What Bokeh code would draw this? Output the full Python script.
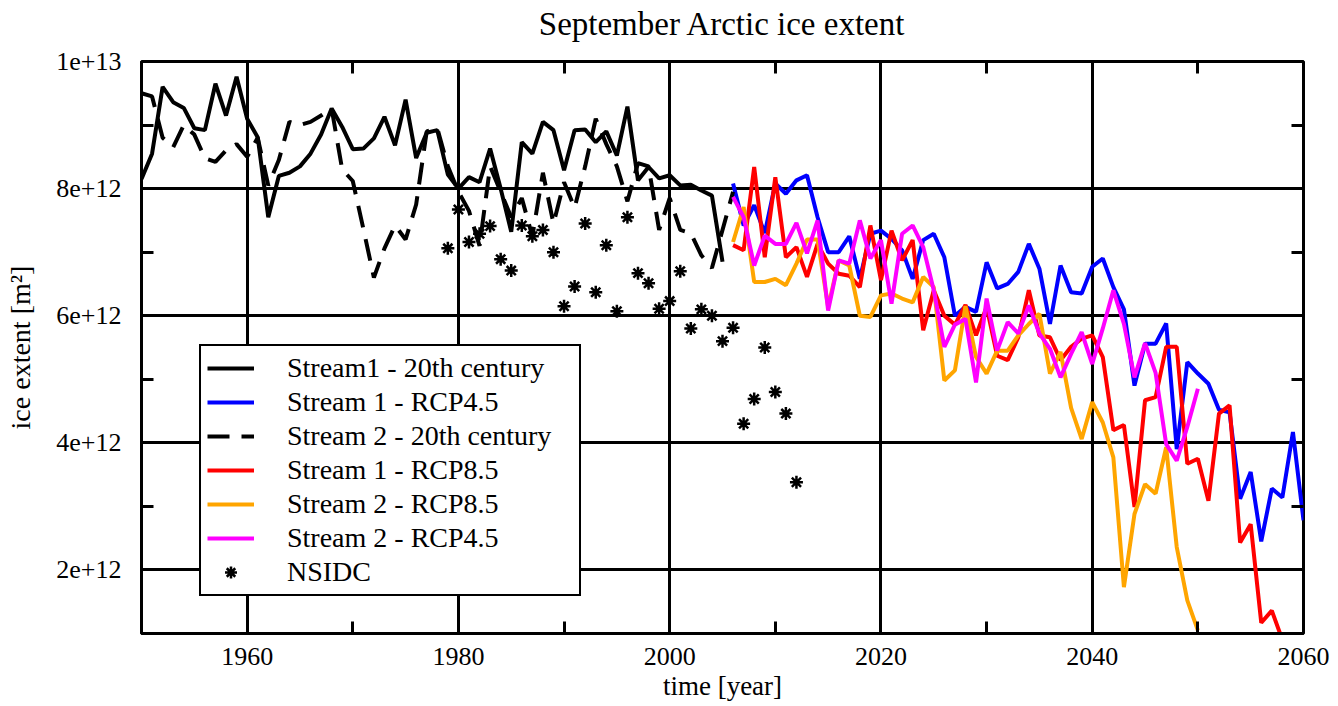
import numpy as np
from bokeh.plotting import figure
from bokeh.models import (FixedTicker, LinearAxis, CustomJSTickFormatter,
                          Legend, LegendItem)
from bokeh.embed import file_html
from bokeh.resources import INLINE

SCALE = 1e12  # values below are in units of 1e12 m^2

years_20c_s1 = list(range(1950, 2006))
stream1_20c = [8.15, 8.55, 9.6, 9.36, 9.27, 8.95, 8.92, 9.65, 9.15, 9.76,
               9.1, 8.81, 7.55, 8.2, 8.25, 8.35, 8.55, 8.85, 9.26, 8.97,
               8.62, 8.63, 8.79, 9.13, 8.68, 9.4, 8.48, 8.88, 8.92, 8.22,
               8.0, 8.18, 8.1, 8.63, 8.0, 7.32, 8.73, 8.55, 9.05, 8.92,
               8.29, 8.92, 8.93, 8.73, 8.9, 8.52, 9.29, 8.13, 8.34, 8.16,
               8.21, 8.05, 8.06, 7.97, 7.89, 6.85]

years_20c_s2 = list(range(1950, 2007))
stream2_20c = [9.5, 9.45, 8.8, 8.65, 9.0, 8.85, 8.48, 8.42, 8.6, 8.7,
               8.5, 8.8, 8.05, 8.45, 9.05, 9.0, 9.05, 9.15, 9.26, 8.3,
               8.12, 7.37, 6.6, 7.06, 7.42, 7.2, 7.75, 8.9, 8.95, 8.35,
               7.95, 7.65, 7.1, 8.35, 7.95, 7.55, 7.85, 7.25, 8.25, 7.45,
               8.1, 7.7, 8.35, 9.1, 8.7, 8.35, 7.8, 8.4, 8.35, 7.35,
               7.85, 7.35, 7.3, 6.95, 6.75, 7.35, 7.95]

years_s1_rcp45 = list(range(2006, 2061))
stream1_rcp45 = [8.08, 7.42, 7.74, 7.3, 8.08, 7.92, 8.13, 8.21, 7.55, 7.0,
                 7.0, 7.25, 6.58, 7.29, 7.34, 7.21, 7.03, 6.58, 7.19, 7.29,
                 6.92, 6.0, 6.14, 6.06, 6.84, 6.43, 6.5, 6.69, 7.13, 6.74,
                 5.87, 6.79, 6.37, 6.35, 6.77, 6.9, 6.45, 6.1, 4.9, 5.56,
                 5.56, 5.88, 3.9, 5.27, 5.09, 4.93, 4.52, 4.48, 3.12, 3.54,
                 2.45, 3.28, 3.14, 4.17, 2.78]

years_s1_rcp85 = list(range(2006, 2059))
stream1_rcp85 = [7.11, 7.03, 8.34, 6.92, 8.18, 6.92, 7.08, 6.61, 7.13, 6.82,
                 6.66, 6.63, 6.45, 7.42, 6.56, 7.34, 6.87, 7.19, 5.77, 6.4,
                 6.0, 5.86, 6.17, 5.69, 6.14, 5.37, 5.3, 5.66, 6.4, 5.69,
                 5.66, 5.3, 5.51, 5.64, 5.69, 5.35, 4.2, 4.28, 2.99, 4.67,
                 4.72, 5.51, 5.51, 3.67, 3.75, 3.09, 4.46, 4.59, 2.43, 2.72,
                 1.17, 1.36, 0.9]

years_s2_rcp85 = list(range(2006, 2051))
stream2_rcp85 = [7.16, 7.71, 6.53, 6.53, 6.58, 6.48, 6.82, 7.2, 7.2, 6.14,
                 6.87, 6.79, 6.0, 5.98, 6.32, 6.35, 6.27, 6.21, 6.61, 6.45,
                 4.98, 5.14, 6.15, 5.35, 5.09, 5.45, 5.45, 5.69, 5.87, 6.03,
                 5.09, 5.43, 4.55, 4.06, 4.64, 4.32, 3.77, 1.73, 2.88, 3.35,
                 3.2, 3.93, 2.36, 1.52, 1.05]

years_s2_rcp45 = list(range(2006, 2051))
stream2_rcp45 = [7.87, 7.55, 6.79, 7.26, 7.13, 7.13, 7.46, 6.98, 7.5, 6.08,
                 6.87, 6.82, 7.5, 6.9, 7.19, 6.19, 7.29, 7.42, 7.08, 6.4,
                 5.51, 5.86, 5.95, 4.95, 6.27, 5.45, 5.9, 5.72, 6.16, 5.72,
                 5.48, 5.03, 5.4, 5.74, 5.24, 5.8, 6.4, 5.87, 5.03, 5.57,
                 5.1, 3.98, 3.72, 4.25, 4.85]

years_nsidc = list(range(1979, 2013))
nsidc = [7.06, 7.67, 7.16, 7.29, 7.41, 6.89, 6.71, 7.42, 7.25, 7.35,
         7.0, 6.15, 6.46, 7.45, 6.37, 7.11, 6.07, 7.55, 6.67, 6.51,
         6.11, 6.23, 6.7, 5.8, 6.1, 6.0, 5.6, 5.81, 4.3, 4.69,
         5.5, 4.8, 4.46, 3.38]

x_major = [1960, 1980, 2000, 2020, 2040, 2060]
x_minor = [1970, 1990, 2010, 2030, 2050]
y_major = [2e12, 4e12, 6e12, 8e12, 1e13]
y_minor = [3e12, 5e12, 7e12, 9e12]

TITLE = "September Arctic ice extent"
FONT = "Liberation Serif"


def sc(vals):
    return [v * SCALE for v in vals]


p = figure(width=1338, height=706, x_range=(1950, 2060), y_range=(1e12, 1e13),
           output_backend="svg", toolbar_location=None,
           min_border_left=141, min_border_right=35,
           min_border_top=61, min_border_bottom=73)
p.title = None
p.background_fill_color = "white"
p.border_fill_color = "white"
p.outline_line_color = "black"
p.outline_line_width = 3
p.outline_line_alpha = 1

# bottom axis
xa = p.xaxis[0]
xa.ticker = FixedTicker(ticks=x_major, minor_ticks=x_minor)
xa.axis_label = "time [year]"
for ax in (p.xaxis[0], p.yaxis[0]):
    ax.axis_line_width = 3
    ax.axis_line_color = "black"
    ax.major_tick_in = 0
    ax.major_tick_out = 0
    ax.minor_tick_in = 12
    ax.minor_tick_out = 0
    ax.minor_tick_line_width = 3
    ax.minor_tick_line_color = "black"
    ax.major_label_text_font = FONT
    ax.major_label_text_font_size = "26px"
    ax.major_label_text_color = "black"
    ax.axis_label_text_font = FONT
    ax.axis_label_text_font_style = "normal"
    ax.axis_label_text_color = "black"
xa.axis_label_text_font_size = "27px"
xa.major_label_standoff = 14
xa.axis_label_standoff = 3

ya = p.yaxis[0]
ya.ticker = FixedTicker(ticks=y_major, minor_ticks=y_minor)
ya.formatter = CustomJSTickFormatter(code="return tick.toExponential();")
ya.axis_label = "ice extent [m²]"
ya.axis_label_text_font_size = "28px"
ya.major_label_standoff = 20
ya.axis_label_standoff = 17

# mirrored minor ticks on top (carrying the title) and right
top = LinearAxis(ticker=FixedTicker(ticks=[], minor_ticks=x_minor),
                 axis_line_color=None, major_tick_in=0, major_tick_out=0,
                 minor_tick_in=12, minor_tick_out=0, minor_tick_line_width=3,
                 minor_tick_line_color="black", major_label_text_font_size="0px",
                 major_label_standoff=0,
                 axis_label=TITLE, axis_label_standoff=20,
                 axis_label_text_font=FONT, axis_label_text_font_size="33px",
                 axis_label_text_font_style="normal",
                 axis_label_text_color="black")
right = LinearAxis(ticker=FixedTicker(ticks=[], minor_ticks=y_minor),
                   axis_line_color=None, major_tick_in=0, major_tick_out=0,
                   minor_tick_in=12, minor_tick_out=0, minor_tick_line_width=3,
                   minor_tick_line_color="black", major_label_text_font_size="0px")
p.add_layout(top, "above")
p.add_layout(right, "right")

p.xgrid.ticker = FixedTicker(ticks=[1960, 1980, 2000, 2020, 2040])
p.ygrid.ticker = FixedTicker(ticks=[2e12, 4e12, 6e12, 8e12])
for g in (p.xgrid[0], p.ygrid[0]):
    g.grid_line_color = "black"
    g.grid_line_width = 3
    g.grid_line_alpha = 1

LW = 4
r1 = p.line(years_20c_s1, sc(stream1_20c), line_color="black", line_width=LW)
r2 = p.line(years_s1_rcp45, sc(stream1_rcp45), line_color="#0000ff", line_width=LW)
r3 = p.line(years_20c_s2, sc(stream2_20c), line_color="black", line_width=LW,
            line_dash="22 12")
r4 = p.line(years_s1_rcp85, sc(stream1_rcp85), line_color="#ff0000", line_width=LW)
r5 = p.line(years_s2_rcp85, sc(stream2_rcp85), line_color="#ffa500", line_width=LW)
r6 = p.line(years_s2_rcp45, sc(stream2_rcp45), line_color="#ff00ff", line_width=LW)
r7 = p.scatter(years_nsidc, sc(nsidc), marker="asterisk", size=13,
               line_color="black", line_width=2.5)

legend = Legend(items=[
    LegendItem(label="Stream1 - 20th century", renderers=[r1]),
    LegendItem(label="Stream 1 - RCP4.5", renderers=[r2]),
    LegendItem(label="Stream 2 - 20th century", renderers=[r3]),
    LegendItem(label="Stream 1 - RCP8.5", renderers=[r4]),
    LegendItem(label="Stream 2 - RCP8.5", renderers=[r5]),
    LegendItem(label="Stream 2 - RCP4.5", renderers=[r6]),
    LegendItem(label="NSIDC", renderers=[r7]),
], location=(58, 37))
legend.label_text_font = FONT
legend.label_text_font_size = "28px"
legend.label_text_color = "black"
legend.glyph_width = 47
legend.glyph_height = 30
legend.label_height = 30
legend.label_width = 286
legend.label_standoff = 33
legend.spacing = 2
legend.padding = 6
legend.margin = 0
legend.border_line_color = "black"
legend.border_line_width = 2
legend.border_line_alpha = 1
legend.background_fill_color = "white"
legend.background_fill_alpha = 1
p.add_layout(legend, "center")

open("out.html", "w").write(file_html(p, INLINE))
